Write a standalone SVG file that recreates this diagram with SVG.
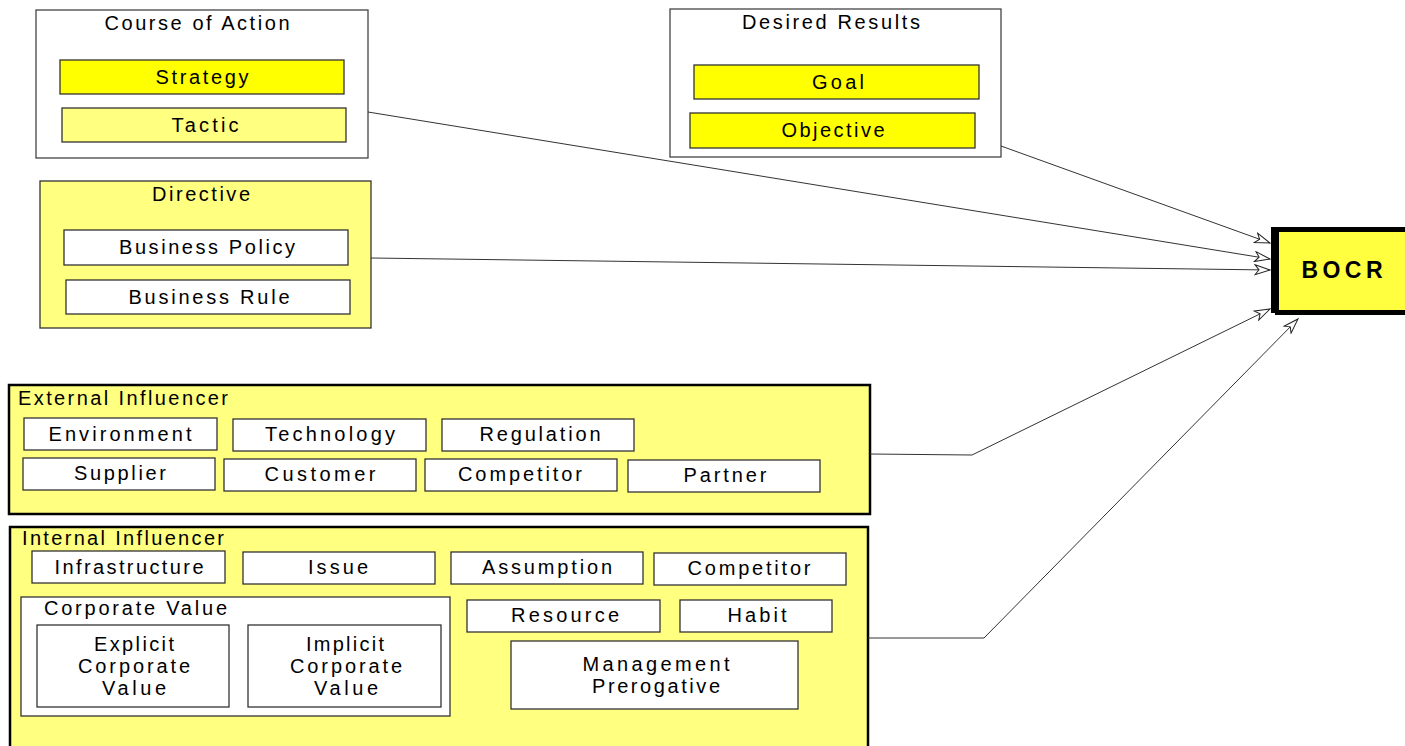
<svg xmlns="http://www.w3.org/2000/svg" width="1405" height="746" viewBox="0 0 1405 746">
<style>
text{font-family:"Liberation Sans",Arial,sans-serif;font-size:20px;fill:#000}
.c{text-anchor:middle}
.box{fill:#fff;stroke:#333;stroke-width:1.3}
.grp{fill:#fff;stroke:#444;stroke-width:1.3}
.lt{fill:#FFFF80;stroke:#333;stroke-width:1.3}
.yl{fill:#FFFF00;stroke:#333;stroke-width:1.3}
.big{fill:#FFFF80;stroke:#000;stroke-width:2.5}
.conn path{fill:none;stroke:#333;stroke-width:1}
</style>
<defs>
<marker id="arr" markerWidth="18" markerHeight="12" refX="16" refY="6" orient="auto" markerUnits="userSpaceOnUse">
<path d="M1,1 L16,6 L1,11 L5,6 Z" fill="#fff" stroke="#222" stroke-width="1"/>
</marker>
</defs>
<rect width="1405" height="746" fill="#fff"/>

<g id="course-of-action">
<rect class="grp" x="36" y="10" width="332" height="148"/>
<text class="c" x="197" y="30" textLength="185" lengthAdjust="spacing">Course of Action</text>
<g id="strategy"><rect class="yl" x="60" y="60" width="284" height="34"/><text class="c" x="202" y="84" textLength="93" lengthAdjust="spacing">Strategy</text></g>
<g id="tactic"><rect class="lt" x="62" y="108" width="284" height="34"/><text class="c" x="205" y="132" textLength="67" lengthAdjust="spacing">Tactic</text></g>
</g>

<g id="directive">
<rect class="lt" x="40" y="181" width="331" height="147"/>
<text class="c" x="201" y="201" textLength="98" lengthAdjust="spacing">Directive</text>
<g id="business-policy"><rect class="box" x="64" y="230" width="284" height="35"/><text class="c" x="207" y="254" textLength="176" lengthAdjust="spacing">Business Policy</text></g>
<g id="business-rule"><rect class="box" x="66" y="280" width="284" height="34"/><text class="c" x="209" y="304" textLength="161" lengthAdjust="spacing">Business Rule</text></g>
</g>

<g id="desired-results">
<rect class="grp" x="670" y="9" width="331" height="148"/>
<text class="c" x="831" y="29" textLength="178" lengthAdjust="spacing">Desired Results</text>
<g id="goal"><rect class="yl" x="694" y="65" width="285" height="34"/><text class="c" x="838" y="89" textLength="52" lengthAdjust="spacing">Goal</text></g>
<g id="objective"><rect class="yl" x="690" y="113" width="285" height="35"/><text class="c" x="833" y="137" textLength="103" lengthAdjust="spacing">Objective</text></g>
</g>

<g id="bocr">
<rect x="1271" y="227" width="140" height="86" fill="#000"/>
<rect x="1275" y="309" width="136" height="6" fill="#000"/>
<rect x="1279" y="232" width="130" height="78" fill="#FFFF40"/>
<text class="c" x="1342" y="278" font-weight="bold" style="font-size:23px" textLength="81" lengthAdjust="spacing">BOCR</text>
</g>

<g id="external-influencer">
<rect class="big" x="9" y="385" width="861" height="129"/>
<text x="18" y="405" textLength="210" lengthAdjust="spacing">External Influencer</text>
<g id="environment"><rect class="box" x="24" y="418" width="193" height="32"/><text class="c" x="120" y="441" textLength="143" lengthAdjust="spacing">Environment</text></g>
<g id="technology"><rect class="box" x="233" y="419" width="193" height="32"/><text class="c" x="330" y="441" textLength="130" lengthAdjust="spacing">Technology</text></g>
<g id="regulation"><rect class="box" x="442" y="419" width="192" height="32"/><text class="c" x="540" y="441" textLength="121" lengthAdjust="spacing">Regulation</text></g>
<g id="supplier"><rect class="box" x="23" y="458" width="192" height="32"/><text class="c" x="120" y="480" textLength="92" lengthAdjust="spacing">Supplier</text></g>
<g id="customer"><rect class="box" x="224" y="459" width="192" height="32"/><text class="c" x="320" y="481" textLength="111" lengthAdjust="spacing">Customer</text></g>
<g id="competitor-ext"><rect class="box" x="425" y="459" width="192" height="32"/><text class="c" x="520" y="481" textLength="124" lengthAdjust="spacing">Competitor</text></g>
<g id="partner"><rect class="box" x="628" y="460" width="192" height="32"/><text class="c" x="725" y="482" textLength="83" lengthAdjust="spacing">Partner</text></g>
</g>

<g id="internal-influencer">
<rect class="big" x="10" y="527" width="858" height="230"/>
<text x="22" y="545" textLength="202" lengthAdjust="spacing">Internal Influencer</text>
<g id="infrastructure"><rect class="box" x="32" y="551" width="193" height="32"/><text class="c" x="129" y="574" textLength="149" lengthAdjust="spacing">Infrastructure</text></g>
<g id="issue"><rect class="box" x="243" y="552" width="192" height="32"/><text class="c" x="338" y="574" textLength="60" lengthAdjust="spacing">Issue</text></g>
<g id="assumption"><rect class="box" x="451" y="552" width="192" height="32"/><text class="c" x="547" y="574" textLength="130" lengthAdjust="spacing">Assumption</text></g>
<g id="competitor-int"><rect class="box" x="654" y="553" width="192" height="32"/><text class="c" x="749" y="575" textLength="123" lengthAdjust="spacing">Competitor</text></g>
<g id="corporate-value">
<rect class="box" x="21" y="597" width="429" height="119"/>
<text x="44" y="615" textLength="183" lengthAdjust="spacing">Corporate Value</text>
<g id="explicit-corporate-value"><rect class="box" x="37" y="625" width="192" height="82"/>
<text class="c" x="134" y="651" textLength="80" lengthAdjust="spacing">Explicit</text>
<text class="c" x="134" y="673" textLength="112" lengthAdjust="spacing">Corporate</text>
<text class="c" x="134" y="695" textLength="64" lengthAdjust="spacing">Value</text></g>
<g id="implicit-corporate-value"><rect class="box" x="248" y="625" width="193" height="82"/>
<text class="c" x="345" y="651" textLength="78" lengthAdjust="spacing">Implicit</text>
<text class="c" x="346" y="673" textLength="112" lengthAdjust="spacing">Corporate</text>
<text class="c" x="346" y="695" textLength="64" lengthAdjust="spacing">Value</text></g>
</g>
<g id="resource"><rect class="box" x="467" y="600" width="193" height="32"/><text class="c" x="565" y="622" textLength="108" lengthAdjust="spacing">Resource</text></g>
<g id="habit"><rect class="box" x="680" y="600" width="152" height="32"/><text class="c" x="757" y="622" textLength="59" lengthAdjust="spacing">Habit</text></g>
<g id="management-prerogative"><rect class="box" x="511" y="641" width="287" height="68"/>
<text class="c" x="656" y="671" textLength="147" lengthAdjust="spacing">Management</text>
<text class="c" x="656" y="693" textLength="128" lengthAdjust="spacing">Prerogative</text></g>
</g>

<g id="connectors" class="conn">
<path d="M1001,146 L1270,243" marker-end="url(#arr)"/>
<path d="M368,112 L1270,259" marker-end="url(#arr)"/>
<path d="M371,258 L1270,270" marker-end="url(#arr)"/>
<path d="M870,454 L972,455 L1270,309" marker-end="url(#arr)"/>
<path d="M868,638 L984,638 L1298,319" marker-end="url(#arr)"/>
</g>
</svg>
